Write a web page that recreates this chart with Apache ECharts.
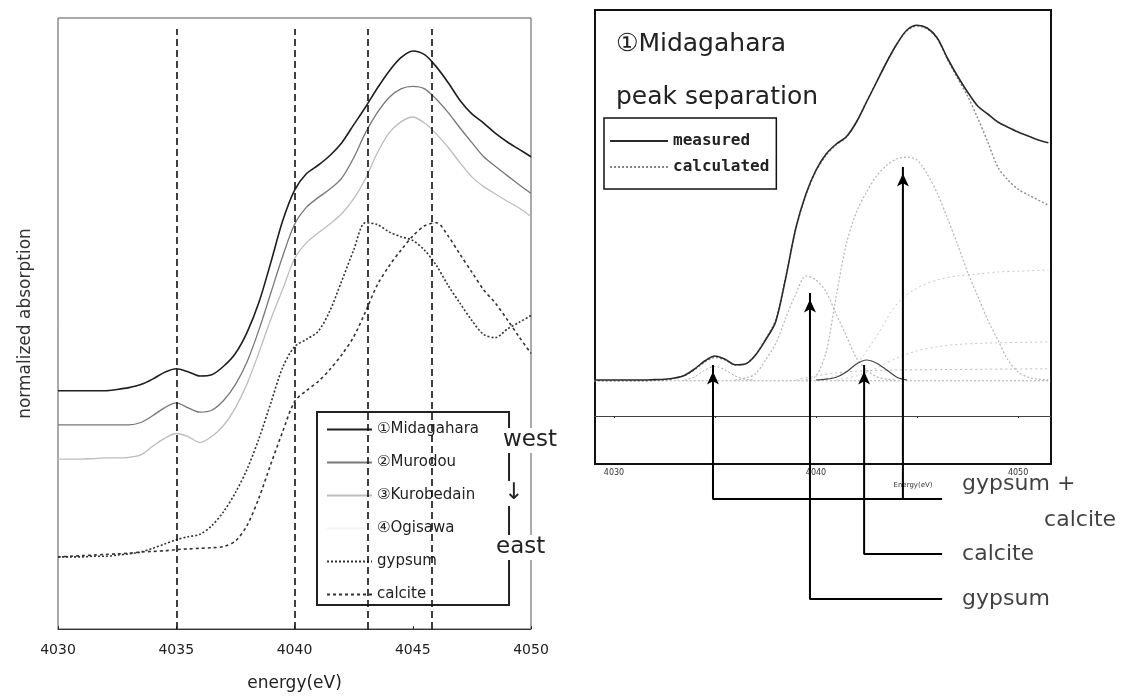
<!DOCTYPE html>
<html><head><meta charset="utf-8">
<script src="https://cdn.jsdelivr.net/npm/echarts@6/dist/echarts.min.js"></script>
<style>html,body{margin:0;padding:0;background:#fff}#c{width:1125px;height:697px}</style>
</head><body><div id="c"></div>
<script>
// ---------- Left panel: XANES spectra (energy in eV) ----------
const energy = [4030,4030.5,4031,4031.5,4032,4032.5,4033,4033.5,4034,4034.5,4035,4035.5,4036,4036.5,4037,4037.5,4038,4038.5,4039,4039.5,4040,4040.5,4041,4041.5,4042,4042.5,4043,4043.5,4044,4044.5,4045,4045.5,4046,4046.5,4047,4047.5,4048,4048.5,4049,4049.5,4050];
const midagahara = [.390,.390,.390,.390,.390,.392,.395,.400,.409,.420,.426,.421,.414,.416,.430,.451,.486,.535,.600,.668,.718,.745,.759,.775,.796,.825,.854,.885,.913,.935,.946,.940,.920,.894,.865,.843,.828,.811,.797,.785,.773];
const murodou = [.334,.334,.334,.334,.334,.334,.334,.338,.349,.362,.370,.362,.355,.358,.374,.400,.438,.490,.550,.610,.662,.690,.706,.720,.738,.771,.812,.845,.870,.884,.888,.884,.867,.845,.820,.796,.773,.757,.742,.727,.713];
const kurobedain = [.278,.278,.278,.279,.280,.280,.281,.285,.299,.312,.320,.315,.305,.315,.333,.362,.402,.453,.507,.556,.606,.632,.648,.663,.680,.704,.737,.779,.812,.830,.838,.828,.810,.788,.763,.740,.724,.712,.700,.689,.675];
const ogisawa = []; // not visible in the reference
const gypsum = [.118,.118,.118,.119,.119,.121,.123,.126,.132,.139,.146,.151,.155,.169,.192,.223,.262,.312,.370,.428,.462,.474,.487,.521,.570,.620,.665,.662,.650,.642,.636,.620,.595,.562,.533,.505,.482,.477,.491,.502,.513];
const calcite = [.118,.119,.120,.121,.122,.123,.124,.126,.127,.128,.130,.131,.132,.133,.135,.144,.170,.215,.270,.323,.372,.390,.405,.425,.449,.478,.519,.563,.594,.620,.643,.660,.665,.643,.613,.584,.555,.533,.506,.478,.451];
const markedEnergies = [4035, 4040, 4043.1, 4045.8];

// ---------- Right panel: peak separation of Midagahara ----------
const rightEnergy = [4029,4029.5,4030,4030.5,4031,4031.5,4032,4032.5,4033,4033.5,4034,4034.5,4035,4035.5,4036,4036.5,4037,4037.5,4038,4038.5,4039,4039.5,4040,4040.5,4041,4041.5,4042,4042.5,4043,4043.5,4044,4044.5,4045,4045.5,4046,4046.5,4047,4047.5,4048,4048.5,4049,4049.5,4050,4050.5,4051,4051.5];
const measured = [.09,.09,.09,.09,.09,.09,.091,.092,.095,.102,.118,.138,.15,.142,.128,.13,.152,.19,.235,.345,.47,.555,.615,.655,.68,.698,.735,.785,.835,.885,.93,.965,.977,.97,.945,.895,.85,.81,.775,.755,.735,.722,.71,.70,.69,.683];
const calculated = [.088,.088,.088,.088,.088,.088,.089,.09,.094,.101,.116,.135,.146,.14,.127,.13,.153,.192,.24,.348,.468,.552,.612,.652,.678,.697,.735,.786,.836,.886,.93,.963,.975,.968,.943,.892,.845,.80,.745,.685,.622,.59,.567,.553,.54,.527];
const preEdgePeak = [[4033.5,.09],[4034,.098],[4034.5,.115],[4035,.124],[4035.5,.115],[4036,.1],[4036.5,.092],[4037,.09]];
const gypsumPeak = [[4036,.09],[4036.5,.095],[4037,.105],[4037.5,.14],[4038,.18],[4038.5,.245],[4039,.305],[4039.5,.35],[4040,.34],[4040.5,.31],[4041,.255],[4041.5,.2],[4042,.145],[4042.5,.115],[4043,.098],[4043.5,.092],[4044,.09]];
const mixPeak = [[4039.5,.09],[4040,.1],[4040.5,.16],[4041,.3],[4041.5,.43],[4042,.51],[4042.5,.56],[4043,.6],[4043.5,.627],[4044,.643],[4044.5,.647],[4045,.64],[4045.5,.605],[4046,.557],[4046.5,.495],[4047,.43],[4047.5,.36],[4048,.3],[4048.5,.24],[4049,.19],[4049.5,.14],[4050,.11],[4050.5,.097],[4051,.092],[4051.5,.09]];
const calcitePeak = [[4040,.09],[4040.5,.092],[4041,.097],[4041.5,.11],[4042,.13],[4042.5,.14],[4043,.132],[4043.5,.115],[4044,.097],[4044.5,.09]];
const step1 = [[4040,.09],[4041,.1],[4042,.13],[4043,.2],[4044,.28],[4045,.32],[4046,.34],[4047,.35],[4048,.355],[4049,.36],[4050,.362],[4051.5,.365]];
const step2 = [[4041,.09],[4042,.1],[4043,.12],[4044,.145],[4045,.163],[4046,.173],[4047,.179],[4049,.183],[4051.5,.185]];
const step3 = [[4039,.09],[4040,.1],[4041,.108],[4042,.112],[4044,.115],[4051.5,.118]];
const baseLine = [[4029,.088],[4051.6,.088]];
const rightLabelTicks = [4030,4040,4050];
const rightTicks = [4030,4035,4040,4045,4050];

// Arrow annotations (energy of peak, tip height, level of connector)
const arrowGypCal = [[4046.24,-0.2075],[4034.9,-0.2075],[4034.9,0.1275]];
const arrowGypCal2 = [[4044.3,-0.2075],[4044.3,0.6225]];
const arrowCalcite = [[4046.24,-0.345],[4042.38,-0.345],[4042.38,0.1275]];
const arrowGypsum = [[4046.24,-0.4575],[4039.7,-0.4575],[4039.7,0.3075]];
const annotNames = ['gypsum +','calcite','calcite','gypsum'];
const annotPoints = [[4046.24,-0.2075],[4046.24,-0.2075],[4046.24,-0.345],[4046.24,-0.4575]];

const pairs = (xs, ys) => ys.map((v,i)=>[xs[i], v]);
const FONT = 'DejaVu Sans';
const plain = v => String(v);

const leftLine = (name, arr, color, type, width, extra) => Object.assign({
  name, type:'line', xAxisIndex:0, yAxisIndex:0, data: pairs(energy, arr),
  smooth: 0.3, symbol:'none', lineStyle:{color, type, width}, itemStyle:{color}
}, extra || {});

const rightLine = (name, data, color, type, width) => ({
  name, type:'line', xAxisIndex:1, yAxisIndex:1, data, smooth:0.3, symbol:'none',
  lineStyle:{color, type, width}, itemStyle:{color}
});

const arrowSeries = (data) => ({
  type:'line', xAxisIndex:2, yAxisIndex:2, data, silent:true,
  symbol: (v, p) => p.dataIndex === data.length - 1 ? 'arrow' : 'none',
  showSymbol:true, symbolSize:[9,13], symbolOffset:[0,'50%'],
  lineStyle:{color:'#000', width:2}, itemStyle:{color:'#000'}, z:6
});

const chart = echarts.init(document.getElementById('c'));
chart.setOption({
  animation:false,
  backgroundColor:'#fff',
  title:[
    {text:'①Midagahara', left:611, top:27, padding:5, textStyle:{fontFamily:FONT, fontSize:25, fontWeight:'normal', color:'#222'}},
    {text:'peak separation', left:611, top:80, padding:5, textStyle:{fontFamily:FONT, fontSize:25, fontWeight:'normal', color:'#222'}}
  ],
  legend:[
    {data:['①Midagahara','②Murodou','③Kurobedain','④Ogisawa','gypsum','calcite'],
     orient:'vertical', left:317, top:412, padding:[10,30,3,9], itemWidth:45, itemHeight:14, itemGap:18,
     borderColor:'#222', borderWidth:2, backgroundColor:'#fff', selectedMode:false,
     itemStyle:{opacity:0},
     textStyle:{fontFamily:FONT, fontSize:15, color:'#222'}},
    {data:['measured','calculated'],
     orient:'vertical', left:604, top:118, padding:[15,7,14,5], itemWidth:58, itemHeight:12, itemGap:10,
     borderColor:'#111', borderWidth:1.5, backgroundColor:'#fff', selectedMode:false,
     itemStyle:{opacity:0},
     textStyle:{fontFamily:'DejaVu Sans Mono', fontWeight:'bold', fontSize:16, color:'#222'}}
  ],
  grid:[
    {left:58, top:18, width:473, height:614, show:true, borderColor:'#555', borderWidth:1},
    {left:595, top:10, width:456, height:454, show:true, borderColor:'#111', borderWidth:2},
    {left:595, top:10, width:456, height:687, show:false}
  ],
  xAxis:[
    {gridIndex:0, type:'value', min:4030, max:4050, interval:5,
     axisLine:{lineStyle:{color:'#333'}}, axisTick:{inside:true, length:3, lineStyle:{color:'#333'}},
     splitLine:{show:false},
     axisLabel:{formatter:plain, fontFamily:FONT, fontSize:14, color:'#222', margin:14},
     name:'energy(eV)', nameLocation:'middle', nameGap:46,
     nameTextStyle:{fontFamily:FONT, fontSize:17, color:'#222'}},
    {gridIndex:1, type:'value', min:4029.06, max:4051.63,
     axisLine:{onZero:true, lineStyle:{color:'#444', width:1}},
     axisTick:{customValues:rightTicks, length:2, lineStyle:{color:'#333'}},
     splitLine:{show:false},
     axisLabel:{customValues:rightLabelTicks, formatter:plain, fontFamily:FONT, fontSize:8, color:'#333', margin:5},
     name:'Energy(eV)', nameLocation:'middle', nameGap:18,
     nameTextStyle:{fontFamily:FONT, fontSize:7, color:'#333', padding:[0,0,0,180]}},
    {gridIndex:2, type:'value', min:4029.06, max:4051.63, show:false, splitLine:{show:false}}
  ],
  yAxis:[
    {gridIndex:0, type:'value', min:0, max:1, axisLine:{show:false}, axisTick:{show:false},
     axisLabel:{show:false}, splitLine:{show:false},
     name:'normalized absorption', nameLocation:'middle', nameGap:24,
     nameTextStyle:{fontFamily:FONT, fontSize:17, color:'#333'}},
    {gridIndex:1, type:'value', min:-0.12, max:1.015, show:false, splitLine:{show:false}},
    {gridIndex:2, type:'value', min:-0.7025, max:1.015, show:false, splitLine:{show:false}}
  ],
  graphic:[
    {type:'text', left:501, top:428, z:100, style:{text:'west', font:'23px "DejaVu Sans"', fill:'#222', backgroundColor:'#fff', padding:[1,2]}},
    {type:'text', left:502, top:481, z:100, style:{text:'↓', font:'23px "DejaVu Sans"', fill:'#222', backgroundColor:'#fff', padding:[1,2]}},
    {type:'text', left:494, top:535, z:100, style:{text:'east', font:'23px "DejaVu Sans"', fill:'#222', backgroundColor:'#fff', padding:[1,2]}}
  ],
  series:[
    leftLine('①Midagahara', midagahara, '#1e1e1e', 'solid', 1.6, {
      markLine:{silent:true, symbol:'none', label:{show:false},
        lineStyle:{color:'#111', type:[7,4], width:1.6},
        data: markedEnergies.map(e => [{coord:[e,0]},{coord:[e,0.982]}])}
    }),
    leftLine('②Murodou', murodou, '#777', 'solid', 1.3),
    leftLine('③Kurobedain', kurobedain, '#bdbdbd', 'solid', 1.3),
    leftLine('④Ogisawa', ogisawa, '#f4f4f4', 'solid', 1.3),
    leftLine('gypsum', gypsum, '#333', [2,2], 1.6),
    leftLine('calcite', calcite, '#333', [3,3], 1.6),

    rightLine('baseline', baseLine, '#aaa', [2,2], 1),
    rightLine('step 1', step1, '#c8c8c8', [2,3], 1),
    rightLine('step 2', step2, '#c8c8c8', [2,3], 1),
    rightLine('step 3', step3, '#bbb', [2,3], 1),
    rightLine('pre-edge peak', preEdgePeak, '#aaa', [2,2], 1),
    rightLine('gypsum peak', gypsumPeak, '#b5b5b5', [2,2], 1.2),
    rightLine('gypsum + calcite peak', mixPeak, '#b5b5b5', [2,2], 1.2),
    rightLine('calcite peak', calcitePeak, '#444', 'solid', 1.2),
    rightLine('calculated', pairs(rightEnergy, calculated), '#888', [2,2], 1.4),
    rightLine('measured', pairs(rightEnergy, measured), '#2a2a2a', 'solid', 1.6),

    arrowSeries(arrowGypCal),
    arrowSeries(arrowGypCal2),
    arrowSeries(arrowCalcite),
    arrowSeries(arrowGypsum),
    {type:'scatter', xAxisIndex:2, yAxisIndex:2, symbolSize:0, silent:true, z:7,
     data: annotPoints.map((p,i)=>({value:p, name:annotNames[i],
       label:{offset: i===0 ? [0,-15] : (i===1 ? [82,21] : [0,0])}})),
     label:{show:true, position:'right', distance:20, formatter:'{b}',
       fontFamily:FONT, fontSize:22, color:'#111'}}
  ]
});
</script></body></html>
